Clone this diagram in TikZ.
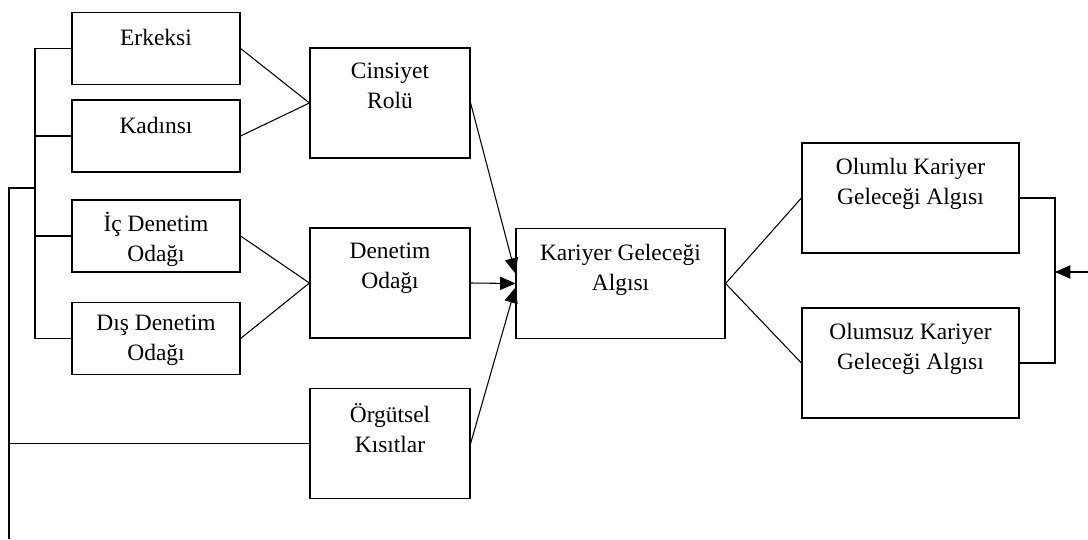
\documentclass[tikz,border=0pt]{standalone}
\usepackage{fontspec}
\setmainfont{Liberation Serif}
\usetikzlibrary{arrows.meta,positioning}
\tikzset{>={Triangle[length=11.5pt,width=10pt]}}
\tikzset{
  box/.style={draw,line width=0.9pt,inner sep=0pt},
  smallbox/.style={box,minimum width=126pt,minimum height=54pt},
  midbox/.style={box,minimum width=120pt,minimum height=82.5pt},
  bigbox/.style={box,minimum width=162.75pt,minimum height=82.5pt},
  boxtext/.style={anchor=north,inner sep=0pt,align=center,
    font=\fontsize{17.6}{22.5}\selectfont,execute at begin node=\strut},
  ltxt/.style={boxtext,yshift=-9.4pt},
  rtxt/.style={boxtext,yshift=-11.7pt},
  link/.style={line width=0.8pt}
}

\begin{document}
\begin{tikzpicture}[x=0.75pt,y=-0.75pt]
    \useasboundingbox (0,0) rectangle (1088,539);
    % left column
    \node[smallbox,label={[ltxt]north:Erkeksi}] (erkeksi) at (156,48.5) {};
    \node[smallbox,label={[ltxt]north:Kadınsı}] (kadinsi) at (156,136) {};
    \node[smallbox,label={[ltxt]north:İç Denetim\\Odağı}] (icdenetim) at (156,236) {};
    \node[smallbox,label={[ltxt]north:Dış Denetim\\Odağı}] (disdenetim) at (156,338.5) {};
    % middle column
    \node[midbox,label={[rtxt]north:Cinsiyet\\Rolü}] (cinsiyet) at (390,103) {};
    \node[midbox,label={[rtxt]north:Denetim\\Odağı}] (denetim) at (390,283) {};
    \node[midbox,label={[rtxt]north:Örgütsel\\Kısıtlar}] (orgutsel) at (390,443.5) {};
    \node[box,minimum width=156.75pt,minimum height=82pt,
          label={[rtxt]north:Kariyer Geleceği\\Algısı}] (kariyer) at (620.5,283.5) {};
    % right column
    \node[bigbox,label={[rtxt]north:Olumlu Kariyer\\Geleceği Algısı}] (olumlu) at (910.5,198) {};
    \node[bigbox,label={[rtxt]north:Olumsuz Kariyer\\Geleceği Algısı}] (olumsuz) at (910.5,363) {};

    \coordinate (bus) at (35,188);
    \coordinate (outtop) at (9,188);
    \coordinate (outbot) at (9,539);
    \coordinate (rjoin) at (1055,272);
    \coordinate (ext) at (1088,272);

    % left bus
    \draw[link] (erkeksi.west) -- (erkeksi.west -| bus) -- (disdenetim.west -| bus) -- (disdenetim.west);
    \draw[link] (kadinsi.west) -- (kadinsi.west -| bus);
    \draw[link] (icdenetim.west) -- (icdenetim.west -| bus);
    \draw[line width=1pt] (bus) -- (outtop) -- (outbot);
    \draw[line width=1.3pt] (orgutsel.west) -- (orgutsel.west -| outtop);

    \draw[link] (erkeksi.east) -- (cinsiyet.west);
    \draw[link] (kadinsi.east) -- (cinsiyet.west);
    \draw[link] (icdenetim.east) -- (denetim.west);
    \draw[link] (disdenetim.east) -- (denetim.west);

    \draw[link,->] (cinsiyet.east) -- ([yshift=7.5pt]kariyer.west);
    \draw[link,->] (denetim.east) -- (kariyer.west);
    \draw[link,->] (orgutsel.east) -- ([yshift=-3pt]kariyer.west);

    \draw[link] (kariyer.east) -- (olumlu.west);
    \draw[link] (kariyer.east) -- (olumsuz.west);

    \draw[link] (olumlu.east) -| (rjoin) |- (olumsuz.east);
    \draw[link,->] (ext) -- (rjoin);
\end{tikzpicture}
\end{document}
